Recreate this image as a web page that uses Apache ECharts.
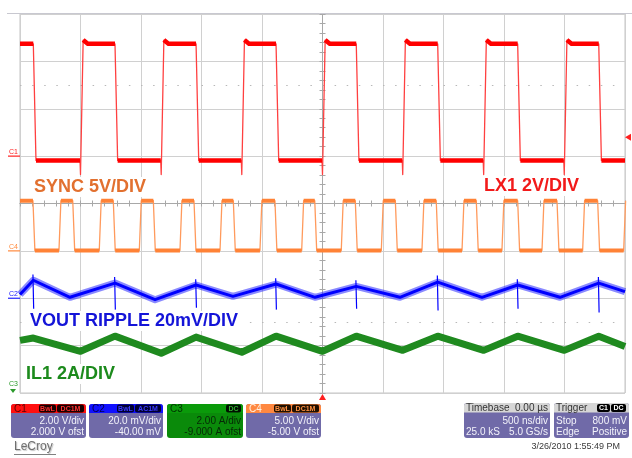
<!DOCTYPE html>
<html>
<head>
<meta charset="UTF-8">
<title>LX1 / SYNC scope capture</title>
<script src="https://cdn.jsdelivr.net/npm/echarts@6/dist/echarts.min.js"></script>
<style>
  html, body { margin: 0; padding: 0; background: #fff; }
  #scope { width: 632px; height: 458px; }
</style>
</head>
<body>
<div id="scope"></div>
<script>
// x: time in us (500 ns/div, trigger at 0), y: screen divisions (-4..4)

// C1  LX1 2V/DIV  (red)
var lx1Fall = [-2.39, -1.715, -1.045, -0.384, 0.279, 0.952, 1.613, 2.283];
var lx1Rise = [-2.0, -1.333, -0.667, 0.0, 0.663, 1.332, 1.998];
var lx1Top = 3.45, lx1High = 3.37, lx1Low = 0.91, lx1Dip = 0.61;

// C4  SYNC 5V/DIV  (orange)
var syncFall = [-2.393, -2.064, -1.729, -1.398, -1.062, -0.737, -0.393, -0.064,
                0.271, 0.602, 0.940, 1.271, 1.613, 1.938, 2.274];
var syncRise = [-2.178, -1.845, -1.514, -1.178, -0.847, -0.517, -0.172, 0.155,
                0.486, 0.822, 1.153, 1.483, 1.814, 2.150, 2.489];
var syncHigh = 0.06, syncLow = -0.99;

// C2  VOUT ripple 20mV/DIV  (blue)  [t, div]
var voutPts = [
  [-2.5, -1.92], [-2.39, -1.62], [-2.087, -1.98], [-1.715, -1.68], [-1.384, -2.03],
  [-1.045, -1.72], [-0.740, -1.96], [-0.384, -1.70], [-0.062, -1.98], [0.279, -1.75],
  [0.640, -1.98], [0.952, -1.66], [1.318, -1.98], [1.613, -1.72], [1.963, -1.98],
  [2.283, -1.68], [2.5, -1.86]
];
// switching spikes on VOUT: [t, top, bottom]
var voutSpikes = [
  [-2.39, -1.50, -2.22], [-1.715, -1.55, -2.24], [-1.045, -1.60, -2.20], [-0.384, -1.58, -2.24],
  [0.279, -1.62, -2.22], [0.952, -1.52, -2.26], [1.613, -1.60, -2.22], [2.283, -1.55, -2.30]
];

// C3  IL1 2A/DIV  (green)  [t, div]
var il1Pts = [
  [-2.5, -2.89], [-2.39, -2.84], [-2.0, -3.12], [-1.715, -2.80], [-1.333, -3.16],
  [-1.045, -2.82], [-0.667, -3.14], [-0.384, -2.80], [0.0, -3.12], [0.279, -2.80],
  [0.663, -3.10], [0.952, -2.80], [1.332, -3.10], [1.613, -2.80], [1.998, -3.10],
  [2.283, -2.80], [2.5, -3.02]
];

// channel ground markers (div) and trigger
var chanMarks = [
  {name: 'C1', level: 1, color: '#ff2020'},
  {name: 'C4', level: -1, color: '#ff8a3d'},
  {name: 'C2', level: -2, color: '#2020ff'}
];
var trigLevel = 1.4, trigTime = 0;

var edge = 0.022;

var chart = echarts.init(document.getElementById('scope'), null, {renderer: 'canvas'});

function lx1Trace() {
  var pts = [[-2.5, lx1High]], flats = [[-2.5, lx1High]];
  for (var i = 0; i < lx1Fall.length; i++) {
    var f = lx1Fall[i];
    pts.push([f, lx1High], [f + edge, lx1Low]);
    flats.push([f, lx1High], [f, '-'], [f + edge, lx1Low]);
    var r = lx1Rise[i];
    if (r !== undefined) {
      pts.push([r - 0.004, lx1Low], [r, lx1Dip], [r + edge, lx1Top], [r + 0.06, lx1High]);
      flats.push([r - 0.004, lx1Low], [r, '-'], [r + edge, lx1Top], [r + 0.06, lx1High]);
    }
  }
  pts.push([2.5, lx1Low]);
  flats.push([2.5, lx1Low]);
  return {pts: pts, flats: flats};
}

function syncTrace() {
  var pts = [[-2.5, syncHigh]], flats = [[-2.5, syncHigh]];
  for (var i = 0; i < syncFall.length; i++) {
    var f = syncFall[i], r = syncRise[i];
    pts.push([f, syncHigh], [f + 0.016, syncLow], [r, syncLow], [r + 0.016, syncHigh]);
    flats.push([f, syncHigh], [f, '-'], [f + 0.016, syncLow], [r, syncLow], [r, '-'], [r + 0.016, syncHigh]);
  }
  pts.push([2.5, syncHigh]);
  flats.push([2.5, syncHigh]);
  return {pts: pts, flats: flats};
}

function spikeTrace() {
  var pts = [];
  voutSpikes.forEach(function (s) {
    pts.push([s[0] - 0.003, s[1]], [s[0] + 0.003, s[2]], [s[0] + 0.003, '-']);
  });
  return pts;
}

var lx1 = lx1Trace(), sync = syncTrace();

function xAx(pos, split) {
  return {
    type: 'value', min: -2.5, max: 2.5, interval: 0.5, position: pos,
    axisLine: {show: true, onZero: true, onZeroAxisIndex: 0, lineStyle: {color: '#a8a8a8', width: 1}},
    axisTick: {show: true, length: 3, lineStyle: {color: '#a8a8a8'}},
    minorTick: {show: true, splitNumber: 5, length: 3, lineStyle: {color: '#a8a8a8'}},
    axisLabel: {show: false},
    splitLine: {show: split, lineStyle: {color: '#d0d0d0', width: 1}}
  };
}
function yAx(pos, split) {
  return {
    type: 'value', min: -4, max: 4, interval: 1, position: pos,
    axisLine: {show: true, onZero: true, onZeroAxisIndex: 0, lineStyle: {color: '#a8a8a8', width: 1}},
    axisTick: {show: true, length: 3, lineStyle: {color: '#a8a8a8'}},
    minorTick: {show: true, splitNumber: 5, length: 3, lineStyle: {color: '#a8a8a8'}},
    axisLabel: {show: false},
    splitLine: {show: split, lineStyle: {color: '#d0d0d0', width: 1}}
  };
}

function line(name, data, color, width, opacity, z) {
  return {
    name: name, type: 'line', data: data, showSymbol: false, symbol: 'none',
    xAxisIndex: 0, yAxisIndex: 0, z: z || 2, silent: true,
    lineStyle: {color: color, width: width, opacity: opacity == null ? 1 : opacity, join: 'round'},
    connectNulls: false, animation: false
  };
}

var FONT = '"Liberation Sans", Arial, sans-serif';

function label(text, x, y, color) {
  return {
    type: 'text', x: x, y: y, z: 50,
    style: {text: text, fill: color, font: 'bold 18px ' + FONT, verticalAlign: 'middle',
            backgroundColor: '#fff', padding: [1, 3]}
  };
}

function txt(text, x, y, color, align, size, bold) {
  return {
    type: 'text', x: x, y: y, z: 60,
    style: {text: text, fill: color, align: align || 'left', verticalAlign: 'middle',
            font: (bold ? 'bold ' : '') + (size || 10) + 'px ' + FONT}
  };
}

function tag(text, x, w, y, bg, fg) {
  return [
    {type: 'rect', z: 58, shape: {x: x, y: y, width: w, height: 8, r: 2}, style: {fill: bg}},
    txt(text, x + w / 2, y + 4.5, fg, 'center', 7, true)
  ];
}

var BODY = '#706aa8';

function chanBox(x, w, name, head, nameColor, tags, l1, l2, bodyColor, textColor) {
  var els = [
    {type: 'rect', z: 55, shape: {x: x, y: 404, width: w, height: 34, r: 3}, style: {fill: bodyColor}},
    {type: 'rect', z: 56, shape: {x: x, y: 404, width: w, height: 9, r: [3, 3, 0, 0]}, style: {fill: head}},
    txt(name, x + 3, 409, nameColor, 'left', 10),
    txt(l1, x + w - 2, 421, textColor, 'right', 10),
    txt(l2, x + w - 2, 432, textColor, 'right', 10)
  ];
  tags.forEach(function (t) { els = els.concat(t); });
  return els;
}

var graphics = [];
graphics.push({type: 'line', z: 1, shape: {x1: 7, y1: 13.5, x2: 632, y2: 13.5}, style: {stroke: '#c8c8d0', lineWidth: 1}});
graphics.push(label('SYNC 5V/DIV', 31, 187, '#e2702f'));
graphics.push(label('LX1 2V/DIV', 481, 186, '#f21a1a'));
graphics.push(label('VOUT RIPPLE 20mV/DIV', 27, 321, '#1414d8'));
graphics.push(label('IL1 2A/DIV', 23, 374, '#1c8a1c'));

graphics = graphics.concat(chanBox(11, 75, 'C1', '#ff1010', '#5a0000',
  [tag('BwL', 39, 17, 404.5, '#1a0000', '#ff3030'), tag('DC1M', 57, 27, 404.5, '#1a0000', '#ff3030')],
  '2.00 V/div', '2.000 V ofst', BODY, '#f2f2fa'));
graphics = graphics.concat(chanBox(89, 74, 'C2', '#1010ff', '#00004a',
  [tag('BwL', 117, 17, 404.5, '#000030', '#3a3aff'), tag('AC1M', 135, 26, 404.5, '#000030', '#3a3aff')],
  '20.0 mV/div', '-40.00 mV', BODY, '#f2f2fa'));
graphics = graphics.concat(chanBox(167, 76, 'C3', '#0a9a0a', '#003000',
  [tag('DC', 226, 15, 404.5, '#001000', '#30b030')],
  '2.00 A/div', '-9.000 A ofst', '#0a8a0a', '#062806'));
graphics = graphics.concat(chanBox(246, 75, 'C4', '#ff8840', '#fff0e0',
  [tag('BwL', 274, 17, 404.5, '#201000', '#ff9040'), tag('DC1M', 292, 27, 404.5, '#201000', '#ff9040')],
  '5.00 V/div', '-5.00 V ofst', BODY, '#f2f2fa'));

// timebase box
graphics.push(
  {type: 'rect', z: 55, shape: {x: 464, y: 403, width: 86, height: 35, r: 3}, style: {fill: BODY}},
  {type: 'rect', z: 56, shape: {x: 464, y: 403, width: 86, height: 9.5, r: [3, 3, 0, 0]}, style: {fill: '#d6d6d6'}},
  txt('Timebase', 466, 408.5, '#333', 'left', 10),
  txt('0.00 µs', 548, 408.5, '#333', 'right', 10),
  txt('500 ns/div', 548, 421, '#f2f2fa', 'right', 10),
  txt('25.0 kS', 466, 432, '#f2f2fa', 'left', 10),
  txt('5.0 GS/s', 548, 432, '#f2f2fa', 'right', 10)
);
// trigger box
graphics.push(
  {type: 'rect', z: 55, shape: {x: 554, y: 403, width: 75, height: 35, r: 3}, style: {fill: BODY}},
  {type: 'rect', z: 56, shape: {x: 554, y: 403, width: 75, height: 9.5, r: [3, 3, 0, 0]}, style: {fill: '#d6d6d6'}},
  txt('Trigger', 556, 408.5, '#333', 'left', 10)
);
graphics = graphics.concat(tag('C1', 597, 13, 404, '#000', '#fff'), tag('DC', 611, 15, 404, '#000', '#fff'));
graphics.push(
  txt('Stop', 556, 421, '#f2f2fa', 'left', 10),
  txt('800 mV', 627, 421, '#f2f2fa', 'right', 10),
  txt('Edge', 556, 432, '#f2f2fa', 'left', 10),
  txt('Positive', 627, 432, '#f2f2fa', 'right', 10),
  txt('3/26/2010 1:55:49 PM', 620, 447, '#3a3a3a', 'right', 9),
  {type: 'text', x: 14, y: 447, z: 60,
   style: {text: 'LeCroy', fill: '#707070', font: '12px ' + FONT, verticalAlign: 'middle',
           textShadowColor: '#c0c0c0', textShadowBlur: 1, textShadowOffsetX: 1, textShadowOffsetY: 1}},
  {type: 'line', z: 60, shape: {x1: 14, y1: 454.5, x2: 56, y2: 454.5}, style: {stroke: '#808080', lineWidth: 1}}
);

var option = {
  animation: false,
  backgroundColor: '#fff',
  grid: {left: 20, top: 14, width: 605, height: 379, show: true, borderColor: '#c4c4c4', borderWidth: 1},
  xAxis: [xAx('bottom', true), xAx('top', false)],
  yAxis: [yAx('left', true), yAx('right', false)],
  series: [
    line('IL1', il1Pts, '#1f8a1f', 7, 1, 3),
    line('VOUT band', voutPts, '#2a2aff', 7, 0.55, 4),
    line('VOUT', voutPts, '#0000ff', 3, 1, 5),
    line('VOUT spikes', spikeTrace(), '#0000ff', 1.2, 1, 5),
    line('SYNC', sync.pts, '#ff9a5c', 1.3, 1, 6),
    line('SYNC flats', sync.flats, '#ff8236', 4, 1, 6),
    line('LX1', lx1.pts, '#ff4040', 1.3, 1, 7),
    line('LX1 flats', lx1.flats, '#ff0000', 4.5, 1, 7)
  ],
  graphic: graphics
};
option.series[0].markLine = {
  silent: true, symbol: 'none', label: {show: false},
  lineStyle: {color: '#b8b8b8', type: [1.5, 10.6], width: 1.2},
  data: [{yAxis: 2.5}, {yAxis: -2.5}]
};

chart.setOption(option);

// channel ground markers on the left, trigger markers
var extra = [];
chanMarks.forEach(function (c) {
  var y = chart.convertToPixel({gridIndex: 0}, [0, c.level])[1];
  extra.push(txt(c.name, 9, y - 4, c.color, 'left', 7));
  extra.push({type: 'line', z: 60, shape: {x1: 8, y1: y, x2: 20, y2: y}, style: {stroke: c.color, lineWidth: 1.2}});
});
var ty = chart.convertToPixel({gridIndex: 0}, [0, trigLevel])[1];
extra.push({type: 'polygon', z: 60, shape: {points: [[625, ty], [631, ty - 3.5], [631, ty + 3.5]]}, style: {fill: '#ff2020'}});
var tx = chart.convertToPixel({gridIndex: 0}, [trigTime, 0])[0];
extra.push({type: 'polygon', z: 60, shape: {points: [[tx, 394], [tx - 3.5, 400], [tx + 3.5, 400]]}, style: {fill: '#ff2020'}});
extra.push(txt('C3', 9, 384, '#2a9a2a', 'left', 7));
extra.push({type: 'polygon', z: 60, shape: {points: [[10, 389], [16, 389], [13, 393]]}, style: {fill: '#2a9a2a'}});
chart.setOption({graphic: graphics.concat(extra)});
</script>
</body>
</html>
